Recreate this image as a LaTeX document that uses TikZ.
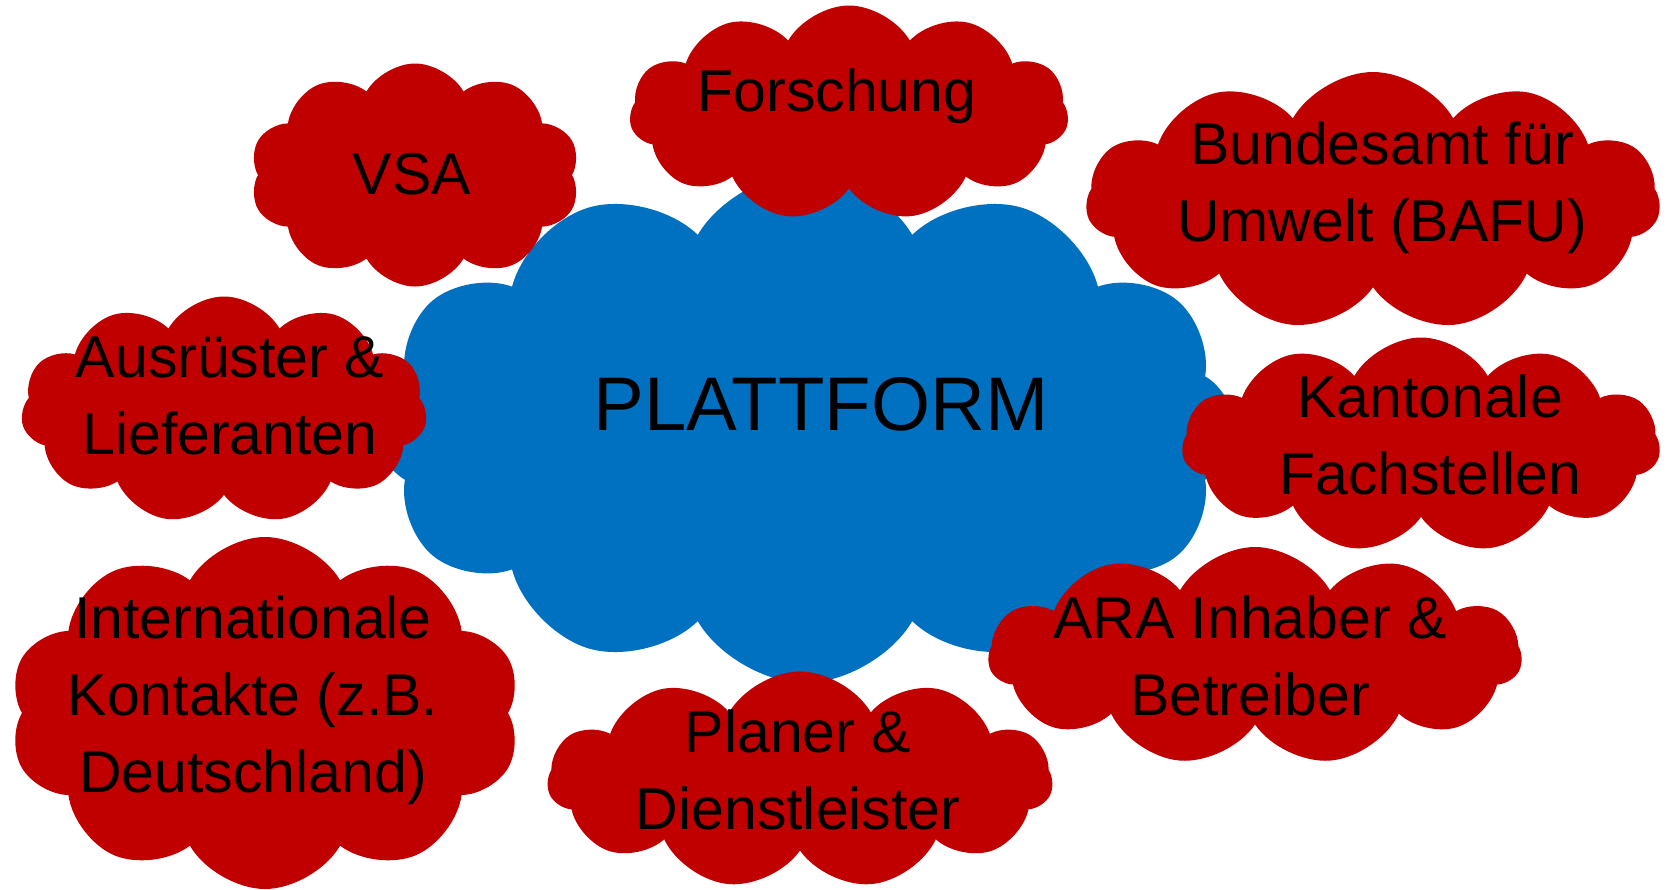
\documentclass[tikz,border=0pt]{standalone}
\usepackage{fontspec}
\setmainfont{Liberation Sans}
\usetikzlibrary{shapes.symbols}
\definecolor{plattblau}{HTML}{0070C0}
\definecolor{akteurrot}{HTML}{C00000}
\tikzstyle{wolke} = [cloud, cloud puffs=11, cloud puff arc=120, inner sep=0pt, draw=none]
\tikzstyle{zentrum} = [wolke, fill=plattblau]
\tikzstyle{akteur} = [wolke, fill=akteurrot]
\tikzstyle{beschriftung} = [align=center, inner sep=0pt, font=\fontsize{59}{77}\selectfont]
\begin{document}
\begin{tikzpicture}[x=1pt, y=-1pt]
        \useasboundingbox (0,0) rectangle (1667,889);
        \node (plattform) [zentrum, cloud puffs=12, minimum width=860pt, minimum height=510pt] at (805,428) {};
        \node (vsa) [akteur, cloud puffs=10, minimum width=330pt, minimum height=223pt] at (415,175) {};
        \node (forschung) [akteur, minimum width=439pt, minimum height=215pt] at (849,113) {};
        \node (bafu) [akteur, minimum width=574pt, minimum height=258pt] at (1373,201) {};
        \node (ausruester) [akteur, minimum width=406pt, minimum height=227pt] at (224,410) {};
        \node (kanton) [akteur, minimum width=478pt, minimum height=215pt] at (1421,445) {};
        \node (international) [akteur, cloud puffs=10, minimum width=512pt, minimum height=352pt] at (265,713) {};
        \node (planer) [akteur, minimum width=505pt, minimum height=217pt] at (800,780) {};
        \node (ara) [akteur, minimum width=533pt, minimum height=218pt] at (1255,656) {};
        \node (plattform-text) [beschriftung, font=\fontsize{76}{80}\selectfont] at (821,404) {PLATTFORM};
        \node (vsa-text) [beschriftung] at (412,174) {VSA};
        \node (forschung-text) [beschriftung] at (837,96) {Forschung};
        \node (bafu-text) [beschriftung] at (1382,188) {Bundesamt für\\Umwelt (BAFU)};
        \node (ausruester-text) [beschriftung] at (230,396) {Ausrüster \&\\Lieferanten};
        \node (kanton-text) [beschriftung] at (1430,435) {Kantonale\\Fachstellen};
        \node (international-text) [beschriftung] at (253,700) {Internationale\\Kontakte (z.B.\\Deutschland)};
        \node (planer-text) [beschriftung] at (798,770) {Planer \&\\Dienstleister};
        \node (ara-text) [beschriftung] at (1250,656) {ARA Inhaber \&\\Betreiber};
    \end{tikzpicture}
\end{document}
